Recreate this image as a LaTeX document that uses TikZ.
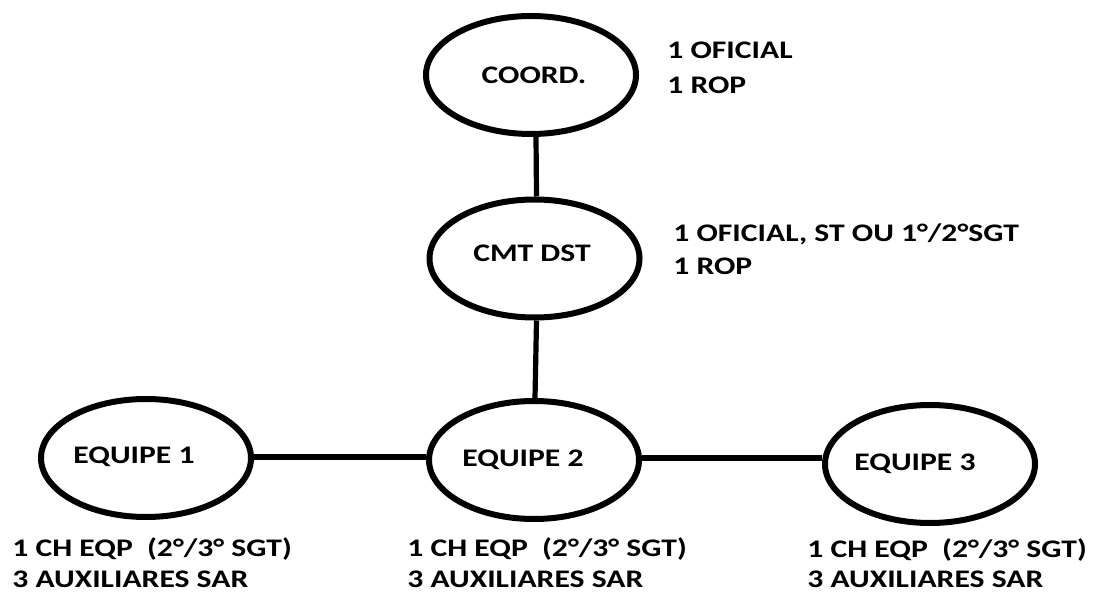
\documentclass[tikz,border=0pt]{standalone}
\usepackage{fontspec}
\setmainfont{Carlito}[FakeStretch=1.25]
\usetikzlibrary{shapes.geometric}
\begin{document}
\begin{tikzpicture}[x=0.5pt,y=-0.5pt,
  unit/.style={draw, ellipse, line width=3pt, minimum width=105pt, minimum height=59pt, inner sep=0pt},
  link/.style={line width=2.6pt},
  txt/.style={font=\fontsize{12.65}{15}\selectfont\bfseries, inner sep=0pt, anchor=base west},
  ctxt/.style={txt, anchor=base}]
\useasboundingbox[fill=white] (0,0) rectangle (1095,592);
% ellipses
\node[unit] (coord) at (531,75) {};
\node[ctxt] (coordT) at (534,84) {COORD.};
\node[unit] (cmt) at (534.5,258.5) {};
\node[ctxt] (cmtT) at (532,262) {CMT DST};
\node[unit] (eq1) at (146,458) {};
\node[ctxt] (eq1T) at (134,463) {EQUIPE 1};
\node[unit] (eq2) at (534,460) {};
\node[ctxt] (eq2T) at (523,466) {EQUIPE 2};
\node[unit] (eq3) at (930,464) {};
\node[ctxt] (eq3T) at (915,470) {EQUIPE 3};
% connectors
\draw[link] ([xshift=2.5pt]coord.south) -- ([xshift=1pt]cmt.north);
\draw[link] ([xshift=1pt]cmt.south) -- ([xshift=0.5pt]eq2.north);
\draw[link] ([yshift=0.5pt]eq1.east) -- ([yshift=1.5pt]eq2.west);
\draw[link] ([yshift=1pt]eq2.east) -- ([yshift=3pt]eq3.west);
% side labels
\node[txt] (c1) at (667,59) {1 OFICIAL};
\node[txt] (c2) at (667,94) {1 ROP};
\node[txt] (m1) at (673,242) {1 OFICIAL, ST OU 1°/2°SGT};
\node[txt] (m2) at (673,275) {1 ROP};
\node[txt] (a1) at (12,556) {1 CH EQP~~(2°/3° SGT)};
\node[txt] (a2) at (12,587) {3 AUXILIARES SAR};
\node[txt] (b1) at (407,556) {1 CH EQP~~(2°/3° SGT)};
\node[txt] (b2) at (407,587) {3 AUXILIARES SAR};
\node[txt] (d1) at (807,557) {1 CH EQP~~(2°/3° SGT)};
\node[txt] (d2) at (807,587) {3 AUXILIARES SAR};
\end{tikzpicture}
\end{document}
